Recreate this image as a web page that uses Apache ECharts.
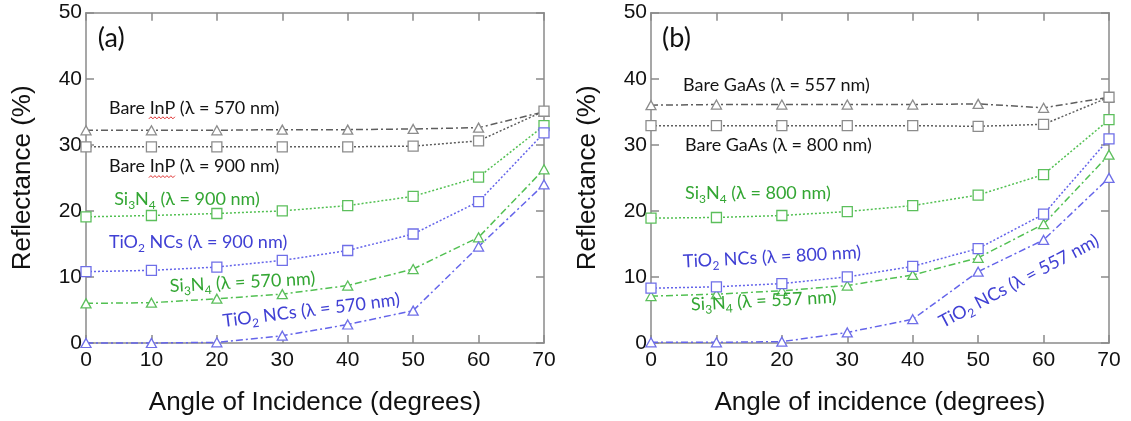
<!DOCTYPE html>
<html>
<head>
<meta charset="utf-8">
<script src="https://cdn.jsdelivr.net/npm/echarts@6/dist/echarts.min.js"></script>
<style>
  html, body { margin: 0; padding: 0; background: #ffffff; }
  #chart { width: 1131px; height: 421px; }
</style>
</head>
<body>
<div id="chart"></div>
<script>
// Angle of incidence (degrees)
const angles = [0, 10, 20, 30, 40, 50, 60, 70];
const yTicks = [0, 10, 20, 30, 40, 50];

// Panel (a): InP, reflectance (%)
const inpBare570 = [32.2, 32.2, 32.2, 32.3, 32.3, 32.4, 32.6, 35.0];
const inpBare900 = [29.7, 29.7, 29.7, 29.7, 29.7, 29.8, 30.6, 35.1];
const inpSiN900  = [19.1, 19.3, 19.6, 20.0, 20.8, 22.2, 25.1, 32.9];
const inpTiO900  = [10.8, 11.0, 11.5, 12.5, 14.0, 16.5, 21.4, 31.8];
const inpSiN570  = [6.0, 6.1, 6.7, 7.4, 8.7, 11.2, 16.0, 26.3];
const inpTiO570  = [0.0, 0.0, 0.1, 1.1, 2.8, 4.9, 14.6, 24.0];

// Panel (b): GaAs, reflectance (%)
const gaasBare557 = [36.0, 36.1, 36.1, 36.1, 36.1, 36.2, 35.6, 37.2];
const gaasBare800 = [32.9, 32.9, 32.9, 32.9, 32.9, 32.8, 33.1, 37.2];
const gaasSiN800  = [18.9, 19.0, 19.3, 19.9, 20.8, 22.4, 25.5, 33.8];
const gaasTiO800  = [8.3, 8.5, 9.0, 10.0, 11.6, 14.3, 19.5, 30.9];
const gaasSiN557  = [7.1, 7.4, 7.9, 8.7, 10.3, 12.9, 18.0, 28.5];
const gaasTiO557  = [0.1, 0.1, 0.2, 1.6, 3.6, 10.8, 15.6, 25.0];

// Curve labels: "_n" marks a subscript digit
const labelsA = [
  { text: 'Bare InP (λ = 570 nm)', tone: 'gray',  at: [3.5, 35.6], rot: 0, squiggle: true },
  { text: 'Bare InP (λ = 900 nm)', tone: 'gray',  at: [3.5, 26.7], rot: 0, squiggle: true },
  { text: 'Si_3N_4 (λ = 900 nm)',  tone: 'green', at: [4.3, 21.8], rot: 0 },
  { text: 'TiO_2 NCs (λ = 900 nm)', tone: 'blue', at: [3.5, 15.2], rot: 0 },
  { text: 'Si_3N_4 (λ = 570 nm)',  tone: 'green', at: [12.8, 8.6], rot: 3 },
  { text: 'TiO_2 NCs (λ = 570 nm)', tone: 'blue', at: [20.9, 3.3], rot: 7 }
];
const labelsB = [
  { text: 'Bare GaAs (λ = 557 nm)', tone: 'gray',  at: [4.9, 39.1], rot: 0 },
  { text: 'Bare GaAs (λ = 800 nm)', tone: 'gray',  at: [5.2, 30.0], rot: 0 },
  { text: 'Si_3N_4 (λ = 800 nm)',   tone: 'green', at: [5.2, 22.7], rot: 0 },
  { text: 'TiO_2 NCs (λ = 800 nm)', tone: 'blue',  at: [4.9, 12.3], rot: 3 },
  { text: 'Si_3N_4 (λ = 557 nm)',   tone: 'green', at: [6.1, 5.8],  rot: 3 },
  { text: 'TiO_2 NCs (λ = 557 nm)', tone: 'blue',  at: [44.2, 3.0], rot: 28 }
];
const panelTags = [{ text: '(a)', at: [1.8, 46.2] }, { text: '(b)', at: [1.7, 46.2] }];
const xTitles = ['Angle of Incidence (degrees)', 'Angle of incidence (degrees)'];
const yTitle = 'Reflectance (%)';

const tones = {
  gray:  { line: '#5e5e5e', mark: '#8c8c8c', text: '#141414' },
  green: { line: '#52c052', mark: '#5cbf5c', text: '#33a633' },
  blue:  { line: '#6464ea', mark: '#6f6fe8', text: '#4040d4' }
};
const dashDot = [7, 3, 2, 3];
const dotted = [2, 2];

const AXIS_GRAY = '#8a8a8a';
const NUM_FONT = 'Liberation Sans, Arial, sans-serif';
const NOTE_FONT = 'Lato, "Open Sans", sans-serif';

function makeSeries(values, grid, tone, shape) {
  const t = tones[tone];
  const tri = shape === 'triangle';
  return {
    type: 'line',
    xAxisIndex: grid,
    yAxisIndex: grid,
    data: angles.map((a, i) => [a, values[i]]),
    clip: false,
    symbol: tri ? 'triangle' : 'rect',
    symbolSize: tri ? [10, 9] : [10, 10],
    showAllSymbol: true,
    lineStyle: { color: t.line, width: 1.5, type: tri ? dashDot : dotted },
    itemStyle: { color: '#ffffff', borderColor: t.mark, borderWidth: 1.3 },
    emphasis: { disabled: true },
    animation: false,
    z: tri ? 2 : 3
  };
}

function bottomAxis(gi) {
  return {
    type: 'value', gridIndex: gi, position: 'bottom',
    min: 0, max: 70, interval: 10,
    name: xTitles[gi], nameLocation: 'middle', nameGap: 47,
    nameTextStyle: { fontFamily: NUM_FONT, fontSize: 26, color: '#111' },
    axisLine: { onZero: false, lineStyle: { color: AXIS_GRAY, width: 1.5 } },
    axisTick: { inside: true, length: 8, lineStyle: { color: AXIS_GRAY, width: 1.5 } },
    axisLabel: { fontFamily: NUM_FONT, fontSize: 21, color: '#111', margin: 7 },
    splitLine: { show: false }
  };
}
function topAxis(gi) {
  return {
    type: 'value', gridIndex: gi, position: 'top',
    min: 0, max: 70, interval: 10,
    axisLine: { onZero: false, lineStyle: { color: AXIS_GRAY, width: 1.5 } },
    axisTick: { inside: true, length: 8, lineStyle: { color: AXIS_GRAY, width: 1.5 } },
    axisLabel: { show: false },
    splitLine: { show: false }
  };
}
function leftAxis(gi) {
  return {
    type: 'value', gridIndex: gi, position: 'left',
    min: yTicks[0], max: yTicks[yTicks.length - 1], interval: 10,
    name: yTitle, nameLocation: 'middle', nameGap: 50, nameRotate: 90,
    nameTextStyle: { fontFamily: NUM_FONT, fontSize: 26, color: '#111' },
    axisLine: { onZero: false, lineStyle: { color: AXIS_GRAY, width: 1.5 } },
    axisTick: { inside: true, length: 8, lineStyle: { color: AXIS_GRAY, width: 1.5 } },
    axisLabel: { fontFamily: NUM_FONT, fontSize: 21, color: '#111', margin: 4 },
    splitLine: { show: false }
  };
}
function rightAxis(gi) {
  return {
    type: 'value', gridIndex: gi, position: 'right',
    min: yTicks[0], max: yTicks[yTicks.length - 1], interval: 10,
    axisLine: { onZero: false, lineStyle: { color: AXIS_GRAY, width: 1.5 } },
    axisTick: { inside: true, length: 8, lineStyle: { color: AXIS_GRAY, width: 1.5 } },
    axisLabel: { show: false },
    splitLine: { show: false }
  };
}

const chart = echarts.init(document.getElementById('chart'), null, { renderer: 'canvas' });

chart.setOption({
  backgroundColor: '#ffffff',
  animation: false,
  grid: [
    { left: 86, top: 12.7, width: 458, height: 330.3 },
    { left: 651, top: 12.7, width: 458, height: 330.3 }
  ],
  xAxis: [bottomAxis(0), bottomAxis(1), topAxis(0), topAxis(1)],
  yAxis: [leftAxis(0), leftAxis(1), rightAxis(0), rightAxis(1)],
  series: [
    makeSeries(inpBare570, 0, 'gray', 'triangle'),
    makeSeries(inpBare900, 0, 'gray', 'rect'),
    makeSeries(inpSiN900, 0, 'green', 'rect'),
    makeSeries(inpTiO900, 0, 'blue', 'rect'),
    makeSeries(inpSiN570, 0, 'green', 'triangle'),
    makeSeries(inpTiO570, 0, 'blue', 'triangle'),
    makeSeries(gaasBare557, 1, 'gray', 'triangle'),
    makeSeries(gaasBare800, 1, 'gray', 'rect'),
    makeSeries(gaasSiN800, 1, 'green', 'rect'),
    makeSeries(gaasTiO800, 1, 'blue', 'rect'),
    makeSeries(gaasSiN557, 1, 'green', 'triangle'),
    makeSeries(gaasTiO557, 1, 'blue', 'triangle')
  ]
});

// Turn "Si_3N_4" style strings into rich text with subscripts
function toRich(str) {
  const parts = str.split(/_(\d)/);
  return parts.map((p, i) => (i % 2 ? '{s|' + p + '}' : (p ? '{m|' + p + '}' : ''))).join('');
}

function noteGraphic(note, seriesIndex) {
  const [px, py] = chart.convertToPixel({ seriesIndex }, note.at);
  const col = tones[note.tone].text;
  return {
    type: 'text',
    x: px, y: py,
    rotation: note.rot * Math.PI / 180,
    z: 10,
    style: {
      text: toRich(note.text),
      align: 'left',
      verticalAlign: 'middle',
      fill: col,
      rich: {
        m: { fontFamily: NOTE_FONT, fontSize: 18, fill: col, lineHeight: 24 },
        s: { fontFamily: NOTE_FONT, fontSize: 12, fill: col, lineHeight: 12, verticalAlign: 'bottom' }
      }
    }
  };
}

// Red wavy underline beneath "InP" (proofing mark)
function squiggle(note, seriesIndex) {
  const [px, py] = chart.convertToPixel({ seriesIndex }, note.at);
  const pts = [];
  const x0 = px + 40, x1 = px + 66, yb = py + 10;
  for (let x = x0, k = 0; x <= x1; x += 2, k++) pts.push([x, yb + (k % 2 ? -1 : 1)]);
  return { type: 'polyline', z: 9, shape: { points: pts }, style: { stroke: '#e03030', lineWidth: 1, fill: null } };
}

const graphics = [];
labelsA.forEach(n => {
  graphics.push(noteGraphic(n, 0));
  if (n.squiggle) graphics.push(squiggle(n, 0));
});
labelsB.forEach(n => graphics.push(noteGraphic(n, 6)));
panelTags.forEach((t, i) => {
  const [px, py] = chart.convertToPixel({ seriesIndex: i === 0 ? 0 : 6 }, t.at);
  graphics.push({
    type: 'text', x: px, y: py, z: 10,
    style: { text: t.text, align: 'left', verticalAlign: 'middle', fill: '#111',
             fontFamily: NOTE_FONT, fontSize: 27 }
  });
});

chart.setOption({ graphic: graphics });
</script>
</body>
</html>
